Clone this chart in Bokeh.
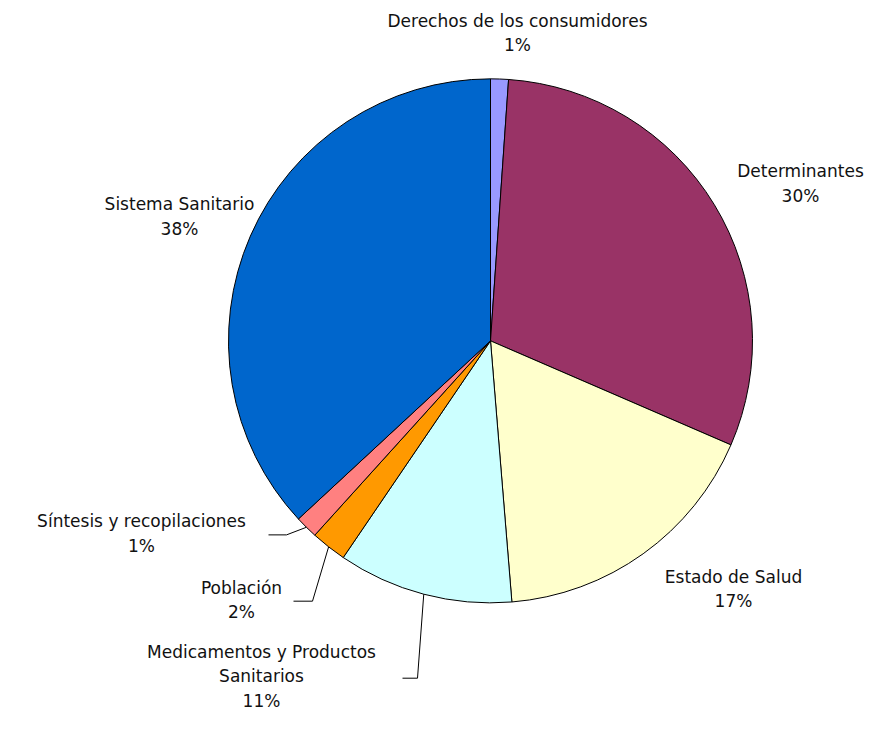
import numpy as np
from bokeh.plotting import figure
from bokeh.models import Range1d, ColumnDataSource
from bokeh.core.properties import value
from bokeh.embed import file_html
from bokeh.resources import INLINE

categories = ["Derechos de los consumidores", "Determinantes", "Estado de Salud",
              "Medicamentos y Productos Sanitarios", "Población",
              "Síntesis y recopilaciones", "Sistema Sanitario"]
shares = [1.1, 30.4, 17.2, 10.8, 2.2, 1.4, 36.9]
pct_labels = ["1%", "30%", "17%", "11%", "2%", "1%", "38%"]
colors = ["#9999FF", "#993366", "#FFFFCC", "#CCFFFF", "#FF9900", "#FF8080", "#0066CC"]

W, H = 864, 713
p = figure(width=W, height=H, output_backend="svg", toolbar_location=None,
           x_range=Range1d(0, W), y_range=Range1d(0, H),
           min_border=0)
p.axis.visible = False
p.grid.visible = False
p.outline_line_color = None
p.background_fill_color = "white"

# vertical squeeze so the whole layout fits in the figure height
SY = 0.975
def Y(yi):
    return H - 3 - yi * SY

cx, cy, r = 490, Y(346), 262
vals = np.array(shares, dtype=float)
frac = vals / vals.sum()
cum_end = np.cumsum(frac)
cum_start = cum_end - frac
start = np.pi / 2 - cum_end * 2 * np.pi
end = np.pi / 2 - cum_start * 2 * np.pi
src = ColumnDataSource(dict(start=start, end=end, color=colors, cat=categories))
p.wedge(x=cx, y=cy, radius=r, start_angle="start", end_angle="end",
        fill_color="color", line_color="black", line_width=1, source=src)

font = value("DejaVu Sans")
fs = "17px"

layout = [
    (["Derechos de los consumidores", pct_labels[0]], 517, 18),
    (["Determinantes", pct_labels[1]], 800, 172),
    (["Estado de Salud", pct_labels[2]], 733, 588),
    (["Medicamentos y Productos", "Sanitarios", pct_labels[3]], 261, 665),
    (["Población", pct_labels[4]], 241, 599),
    (["Síntesis y recopilaciones", pct_labels[5]], 141, 531),
    (["Sistema Sanitario", pct_labels[6]], 179, 206),
]
tx, ty, tt = [], [], []
for lines, x0, y0 in layout:
    for k, ln in enumerate(lines):
        tx.append(x0)
        ty.append(Y(y0 + 25 * k))
        tt.append(ln)
p.text(x=tx, y=ty, text=tt, text_font=font, text_font_size=fs,
       text_align="center", text_baseline="middle", text_color="#111111")

mid = np.pi / 2 - (cum_start + frac / 2) * 2 * np.pi
leaders = {3: [(417, 692), (402, 692)], 4: [(312, 613), (293, 613)],
           5: [(286, 545), (268, 545)]}
for i, pts in leaders.items():
    ex = cx + r * np.cos(mid[i])
    ey = cy + r * np.sin(mid[i])
    xs = [ex] + [q[0] for q in pts]
    ys = [ey] + [Y(q[1]) for q in pts]
    p.line(xs, ys, line_color="black", line_width=1)

open("out.html", "w").write(file_html(p, INLINE))
